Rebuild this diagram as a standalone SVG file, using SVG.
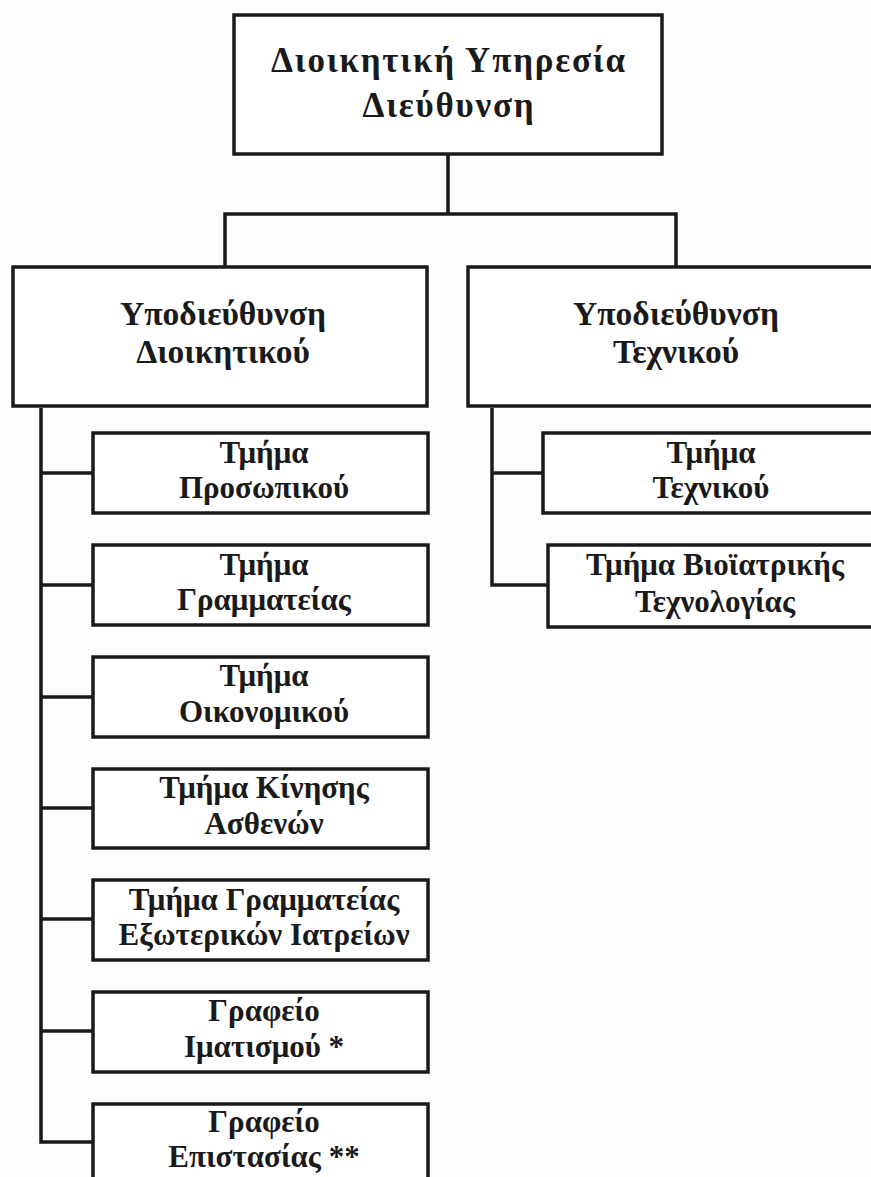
<svg xmlns="http://www.w3.org/2000/svg" width="871" height="1177" viewBox="0 0 871 1177">
  <style>
    .box { fill: #ffffff; stroke: #1a1a1a; stroke-width: 3.5; }
    .wire { fill: none; stroke: #1a1a1a; stroke-width: 3.5; stroke-linejoin: miter; }
    .lbl { font-family: "Liberation Serif", "Times New Roman", serif; font-weight: bold; font-size: 31px; fill: #1a1a1a; text-anchor: middle; }
    .lbl-top { font-size: 35px; letter-spacing: 1.8px; }
    .lbl-sub { font-size: 33.5px; }
  </style>
  <rect width="871" height="1177" fill="#fdfdfd"/>

  <!-- connectors -->
  <g id="connectors">
    <path class="wire" d="M448,154 V214"/>
    <path class="wire" d="M225,267 V214 H676 V267"/>
    <path class="wire" d="M41,408 V1142 H92"/>
    <path class="wire" d="M41,473 H93"/>
    <path class="wire" d="M41,585 H93"/>
    <path class="wire" d="M41,697 H93"/>
    <path class="wire" d="M41,808 H93"/>
    <path class="wire" d="M41,919 H93"/>
    <path class="wire" d="M41,1031 H93"/>
    <path class="wire" d="M492,408 V585 H548"/>
    <path class="wire" d="M492,473 H543"/>
  </g>

  <!-- top level -->
  <g id="node-directorate">
    <rect class="box" x="234" y="15" width="428" height="139"/>
    <text class="lbl lbl-top" x="449" y="72">Διοικητική Υπηρεσία</text>
    <text class="lbl lbl-top" x="449" y="117">Διεύθυνση</text>
  </g>

  <!-- sub-directorates -->
  <g id="node-admin">
    <rect class="box" x="13" y="267" width="414" height="139"/>
    <text class="lbl lbl-sub" x="223" y="325">Υποδιεύθυνση</text>
    <text class="lbl lbl-sub" x="223" y="363">Διοικητικού</text>
  </g>
  <g id="node-technical">
    <rect class="box" x="468" y="267" width="420" height="139"/>
    <text class="lbl lbl-sub" x="676" y="325">Υποδιεύθυνση</text>
    <text class="lbl lbl-sub" x="676" y="363">Τεχνικού</text>
  </g>

  <!-- administrative departments -->
  <g id="node-personnel">
    <rect class="box" x="93" y="433" width="335" height="80"/>
    <text class="lbl" x="264" y="463">Τμήμα</text>
    <text class="lbl" x="264" y="498">Προσωπικού</text>
  </g>
  <g id="node-secretariat">
    <rect class="box" x="93" y="545" width="335" height="80"/>
    <text class="lbl" x="264" y="575">Τμήμα</text>
    <text class="lbl" x="264" y="610">Γραμματείας</text>
  </g>
  <g id="node-finance">
    <rect class="box" x="93" y="657" width="335" height="80"/>
    <text class="lbl" x="264" y="686">Τμήμα</text>
    <text class="lbl" x="264" y="722">Οικονομικού</text>
  </g>
  <g id="node-patient-movement">
    <rect class="box" x="93" y="769" width="335" height="79"/>
    <text class="lbl" x="264" y="798">Τμήμα Κίνησης</text>
    <text class="lbl" x="264" y="834">Ασθενών</text>
  </g>
  <g id="node-outpatient">
    <rect class="box" x="93" y="880" width="335" height="80"/>
    <text class="lbl" x="264" y="910">Τμήμα Γραμματείας</text>
    <text class="lbl" x="264" y="945">Εξωτερικών Ιατρείων</text>
  </g>
  <g id="node-linen">
    <rect class="box" x="93" y="992" width="335" height="80"/>
    <text class="lbl" x="264" y="1021">Γραφείο</text>
    <text class="lbl" x="264" y="1057">Ιματισμού *</text>
  </g>
  <g id="node-supervision">
    <rect class="box" x="93" y="1104" width="335" height="90"/>
    <text class="lbl" x="264" y="1132">Γραφείο</text>
    <text class="lbl" x="264" y="1167">Επιστασίας **</text>
  </g>

  <!-- technical departments -->
  <g id="node-tech-dept">
    <rect class="box" x="543" y="433" width="345" height="80"/>
    <text class="lbl" x="711" y="463">Τμήμα</text>
    <text class="lbl" x="711" y="498">Τεχνικού</text>
  </g>
  <g id="node-biomedical">
    <rect class="box" x="548" y="545" width="340" height="82"/>
    <text class="lbl" x="715" y="575">Τμήμα Βιοϊατρικής</text>
    <text class="lbl" x="715" y="612">Τεχνολογίας</text>
  </g>
</svg>
